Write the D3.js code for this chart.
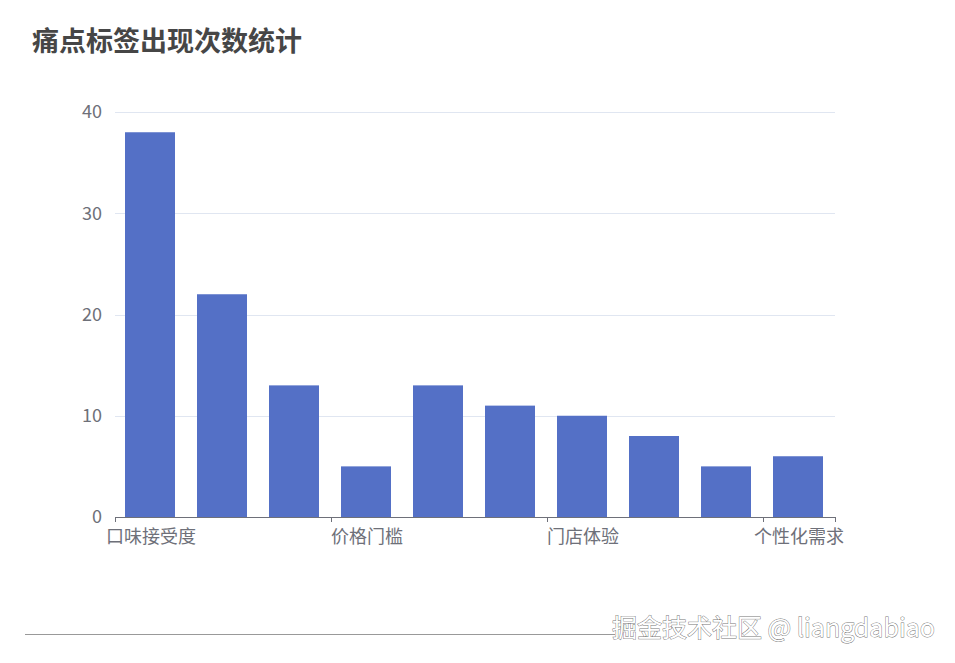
<!DOCTYPE html>
<html>
<head>
<meta charset="utf-8">
<script src="https://cdn.jsdelivr.net/npm/d3@7"></script>
<style>
html,body{margin:0;padding:0;background:#fff;}
svg{display:block;font-family:"Noto Sans CJK SC","Microsoft YaHei",sans-serif;}
</style>
</head>
<body>
<svg id="chart" width="955" height="663"></svg>
<script>
const categories = ["口味接受度","健康顾虑","品牌认知","价格门槛","购买便利","包装设计","门店体验","服务态度","产品多样","个性化需求"];
const values = [38,22,13,5,13,11,10,8,5,6];
const yTicks = [0,10,20,30,40];
const labelInterval = 3;
const titleText = "痛点标签出现次数统计";
const watermarkText = "掘金技术社区 @ liangdabiao";

const svg = d3.select("#chart");
const margin = {left:115, right:835, top:112, bottom:517};

const x = d3.scaleBand().domain(categories).range([margin.left, margin.right]).paddingInner(0).paddingOuter(0);
const y = d3.scaleLinear().domain([0,40]).range([margin.bottom, margin.top]);

// title
svg.append("text").attr("x",32).attr("y",51)
  .attr("font-size",27).attr("font-weight","bold").attr("fill","#464646")
  .text(titleText);

// grid lines
svg.append("g").selectAll("line").data(yTicks.filter(d=>d>0)).join("line")
  .attr("x1",margin.left).attr("x2",margin.right)
  .attr("y1",d=>Math.round(y(d))+0.5).attr("y2",d=>Math.round(y(d))+0.5)
  .attr("stroke","#E0E6F1").attr("stroke-width",1);

// y labels
svg.append("g").selectAll("text").data(yTicks).join("text")
  .attr("x",102).attr("y",d=>y(d)).attr("dy","0.36em")
  .attr("text-anchor","end").attr("font-size",18).attr("fill","#6E7079")
  .text(d=>d);

// bars
const barW = 50;
svg.append("g").selectAll("rect").data(values).join("rect")
  .attr("x",(d,i)=>x(categories[i])+x.bandwidth()/2-barW/2-1)
  .attr("y",d=>y(d)).attr("width",barW).attr("height",d=>y(0)-y(d))
  .attr("fill","#5470C6");

// x axis
const ax = svg.append("g");
ax.append("line").attr("x1",margin.left).attr("x2",margin.right)
  .attr("y1",y(0)+0.5).attr("y2",y(0)+0.5).attr("stroke","#6E7079").attr("stroke-width",1);
const tickIdx = categories.map((c,i)=>i).filter(i=>i%labelInterval===0);
const tickPos = tickIdx.map(i=>x(categories[i])).concat([margin.right]);
ax.selectAll("line.tick").data(tickPos).join("line").attr("class","tick")
  .attr("x1",d=>Math.round(d)+0.5).attr("x2",d=>Math.round(d)+0.5)
  .attr("y1",y(0)).attr("y2",y(0)+5).attr("stroke","#6E7079");
ax.selectAll("text").data(tickIdx).join("text")
  .attr("x",i=>x(categories[i])+x.bandwidth()/2).attr("y",y(0)+20).attr("dy","0.36em")
  .attr("text-anchor","middle").attr("font-size",18).attr("fill","#6E7079")
  .text(i=>categories[i]);

// bottom line + watermark
svg.append("line").attr("x1",25).attr("x2",615).attr("y1",634.5).attr("y2",634.5)
  .attr("stroke","#999").attr("stroke-width",1.2);
svg.append("text").attr("x",935).attr("y",637).attr("text-anchor","end")
  .attr("font-size",25).attr("fill","#ffffff").attr("stroke","#777").attr("stroke-width",0.9)
  .attr("paint-order","stroke")
  .text(watermarkText);
</script>
</body>
</html>
